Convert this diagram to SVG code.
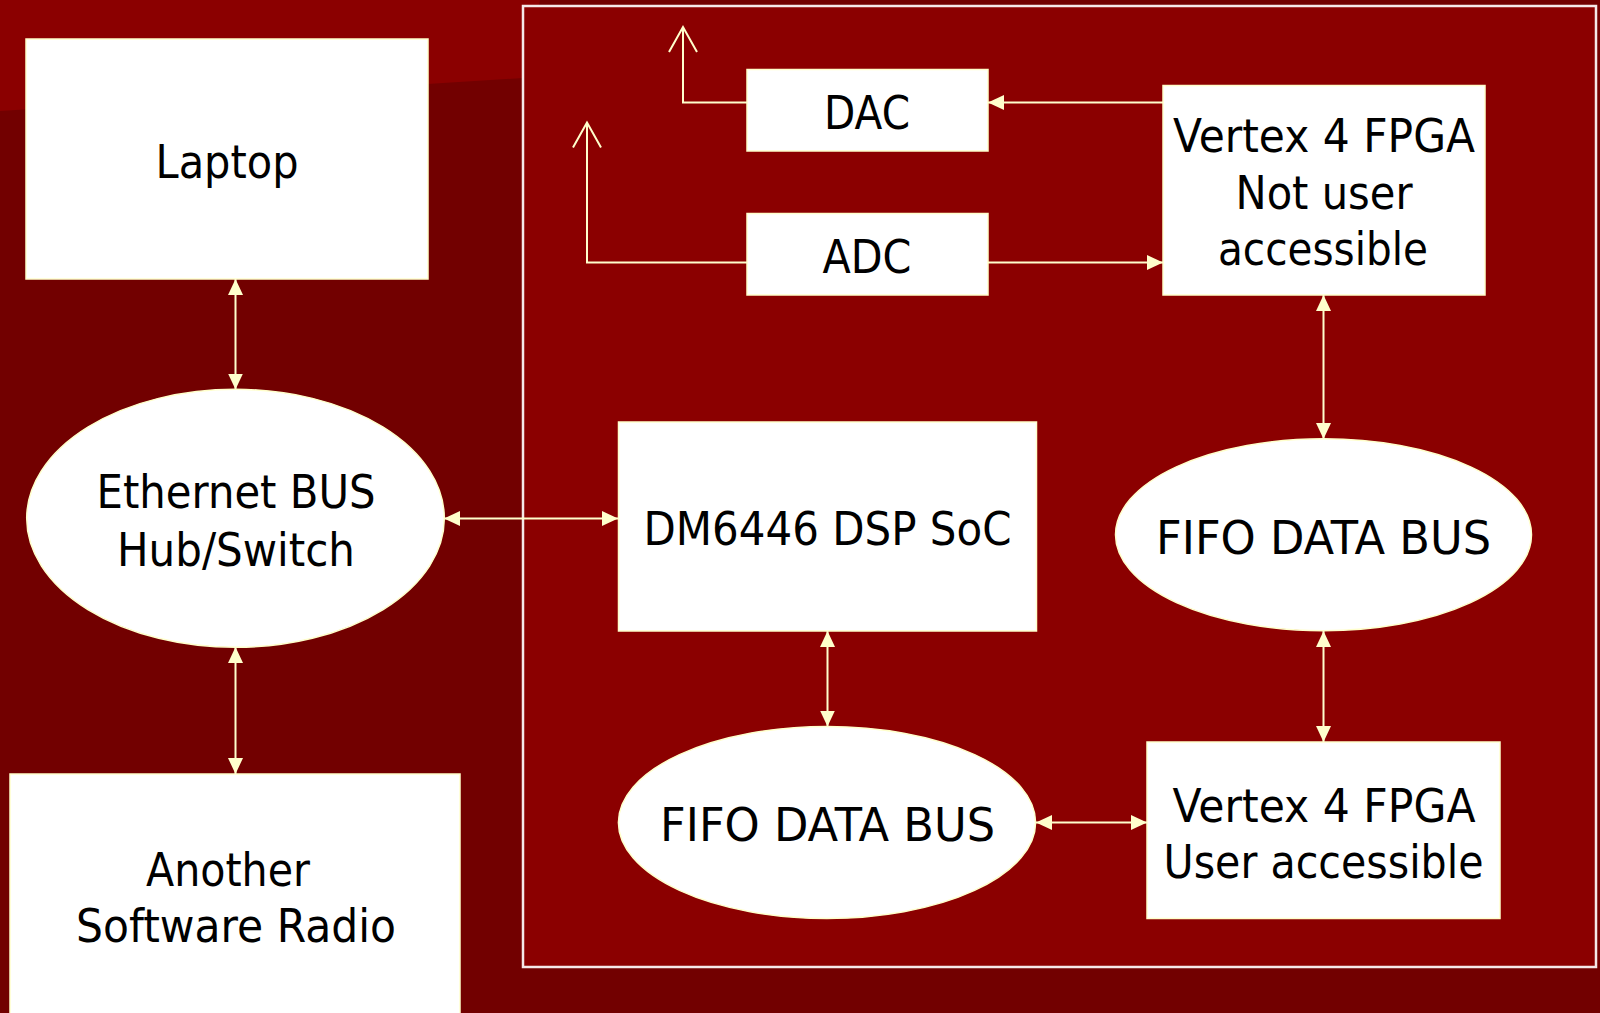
<svg xmlns="http://www.w3.org/2000/svg" width="1600" height="1013" viewBox="0 0 1600 1013">
<style>
.box{fill:#ffffff;stroke:#ffffcc;stroke-width:1.5}
.t{font-family:"DejaVu Sans","Liberation Sans",sans-serif;font-size:46px;fill:#000;text-anchor:middle}
.c{fill:none;stroke:#ffffcc;stroke-width:2}
</style>
<defs>
<marker id="ah" viewBox="0 0 16 15" refX="16" refY="7.5" markerWidth="16" markerHeight="15" markerUnits="userSpaceOnUse" orient="auto-start-reverse">
<path d="M0,0 L16,7.5 L0,15 z" fill="#ffffcc"/>
</marker>
<marker id="open" viewBox="-1 -1 28 30" refX="25" refY="14" markerWidth="28" markerHeight="30" markerUnits="userSpaceOnUse" orient="auto" overflow="visible">
<path d="M0,0 L25,14 L0,28" fill="none" stroke="#ffffcc" stroke-width="2"/>
</marker>
</defs>
<rect x="0" y="0" width="1600" height="1013" fill="#720000"/>
<path d="M0,0 L540,0 L523,78 L0,111 z" fill="#8b0000"/>
<rect id="board" x="523" y="6" width="1073" height="961" fill="#8b0000" stroke="#f5e8e8" stroke-width="2.5"/>

<g id="connectors">
<line class="c" x1="235.5" y1="279" x2="235.5" y2="389.5" marker-start="url(#ah)" marker-end="url(#ah)"/>
<line class="c" x1="235.5" y1="647" x2="235.5" y2="774" marker-start="url(#ah)" marker-end="url(#ah)"/>
<line class="c" x1="444" y1="518.5" x2="618" y2="518.5" marker-start="url(#ah)" marker-end="url(#ah)"/>
<line class="c" x1="827.5" y1="631" x2="827.5" y2="726.5" marker-start="url(#ah)" marker-end="url(#ah)"/>
<line class="c" x1="1036" y1="822.5" x2="1147" y2="822.5" marker-start="url(#ah)" marker-end="url(#ah)"/>
<line class="c" x1="1323.5" y1="631" x2="1323.5" y2="742" marker-start="url(#ah)" marker-end="url(#ah)"/>
<line class="c" x1="1323.5" y1="295" x2="1323.5" y2="439" marker-start="url(#ah)" marker-end="url(#ah)"/>
<line class="c" x1="1163" y1="102.5" x2="988" y2="102.5" marker-end="url(#ah)"/>
<line class="c" x1="988" y1="262.5" x2="1163" y2="262.5" marker-end="url(#ah)"/>
<polyline class="c" points="747,102.5 683,102.5 683,27" marker-end="url(#open)"/>
<polyline class="c" points="747,262.5 587,262.5 587,122.5" marker-end="url(#open)"/>
</g>

<g id="laptop">
<rect class="box" x="26" y="39" width="402" height="240"/>
<text class="t" x="227" y="178" textLength="143" lengthAdjust="spacingAndGlyphs">Laptop</text>
</g>
<g id="ethernet">
<ellipse class="box" cx="235.5" cy="518.3" rx="208.8" ry="129"/>
<text class="t" x="236" y="508" textLength="279" lengthAdjust="spacingAndGlyphs">Ethernet BUS</text>
<text class="t" x="236" y="565.5" textLength="238" lengthAdjust="spacingAndGlyphs">Hub/Switch</text>
</g>
<g id="another">
<rect class="box" x="10" y="774" width="450" height="260"/>
<text class="t" x="228" y="885.5" textLength="164" lengthAdjust="spacingAndGlyphs">Another</text>
<text class="t" x="236" y="942" textLength="320" lengthAdjust="spacingAndGlyphs">Software Radio</text>
</g>
<g id="dac">
<rect class="box" x="747" y="69.5" width="241" height="81.5"/>
<text class="t" x="867" y="129" textLength="86" lengthAdjust="spacingAndGlyphs">DAC</text>
</g>
<g id="adc">
<rect class="box" x="747" y="213.5" width="241" height="81.5"/>
<text class="t" x="867" y="273" textLength="89" lengthAdjust="spacingAndGlyphs">ADC</text>
</g>
<g id="fpga-top">
<rect class="box" x="1163" y="85.5" width="322" height="209.5"/>
<text class="t" x="1324" y="151.5" textLength="302" lengthAdjust="spacingAndGlyphs">Vertex 4 FPGA</text>
<text class="t" x="1324" y="209" textLength="177" lengthAdjust="spacingAndGlyphs">Not user</text>
<text class="t" x="1323" y="265" textLength="210" lengthAdjust="spacingAndGlyphs">accessible</text>
</g>
<g id="dsp">
<rect class="box" x="618.5" y="422" width="418" height="209"/>
<text class="t" x="827.5" y="545" textLength="368" lengthAdjust="spacingAndGlyphs">DM6446 DSP SoC</text>
</g>
<g id="fifo-right">
<ellipse class="box" cx="1323.5" cy="534.7" rx="208" ry="96"/>
<text class="t" x="1323.5" y="553.5" textLength="335" lengthAdjust="spacingAndGlyphs">FIFO DATA BUS</text>
</g>
<g id="fifo-left">
<ellipse class="box" cx="827" cy="822.5" rx="208.6" ry="96"/>
<text class="t" x="827.5" y="841" textLength="335" lengthAdjust="spacingAndGlyphs">FIFO DATA BUS</text>
</g>
<g id="fpga-bottom">
<rect class="box" x="1147" y="742" width="353" height="176.5"/>
<text class="t" x="1324" y="821.5" textLength="303" lengthAdjust="spacingAndGlyphs">Vertex 4 FPGA</text>
<text class="t" x="1323.5" y="877.5" textLength="320" lengthAdjust="spacingAndGlyphs">User accessible</text>
</g>
</svg>
